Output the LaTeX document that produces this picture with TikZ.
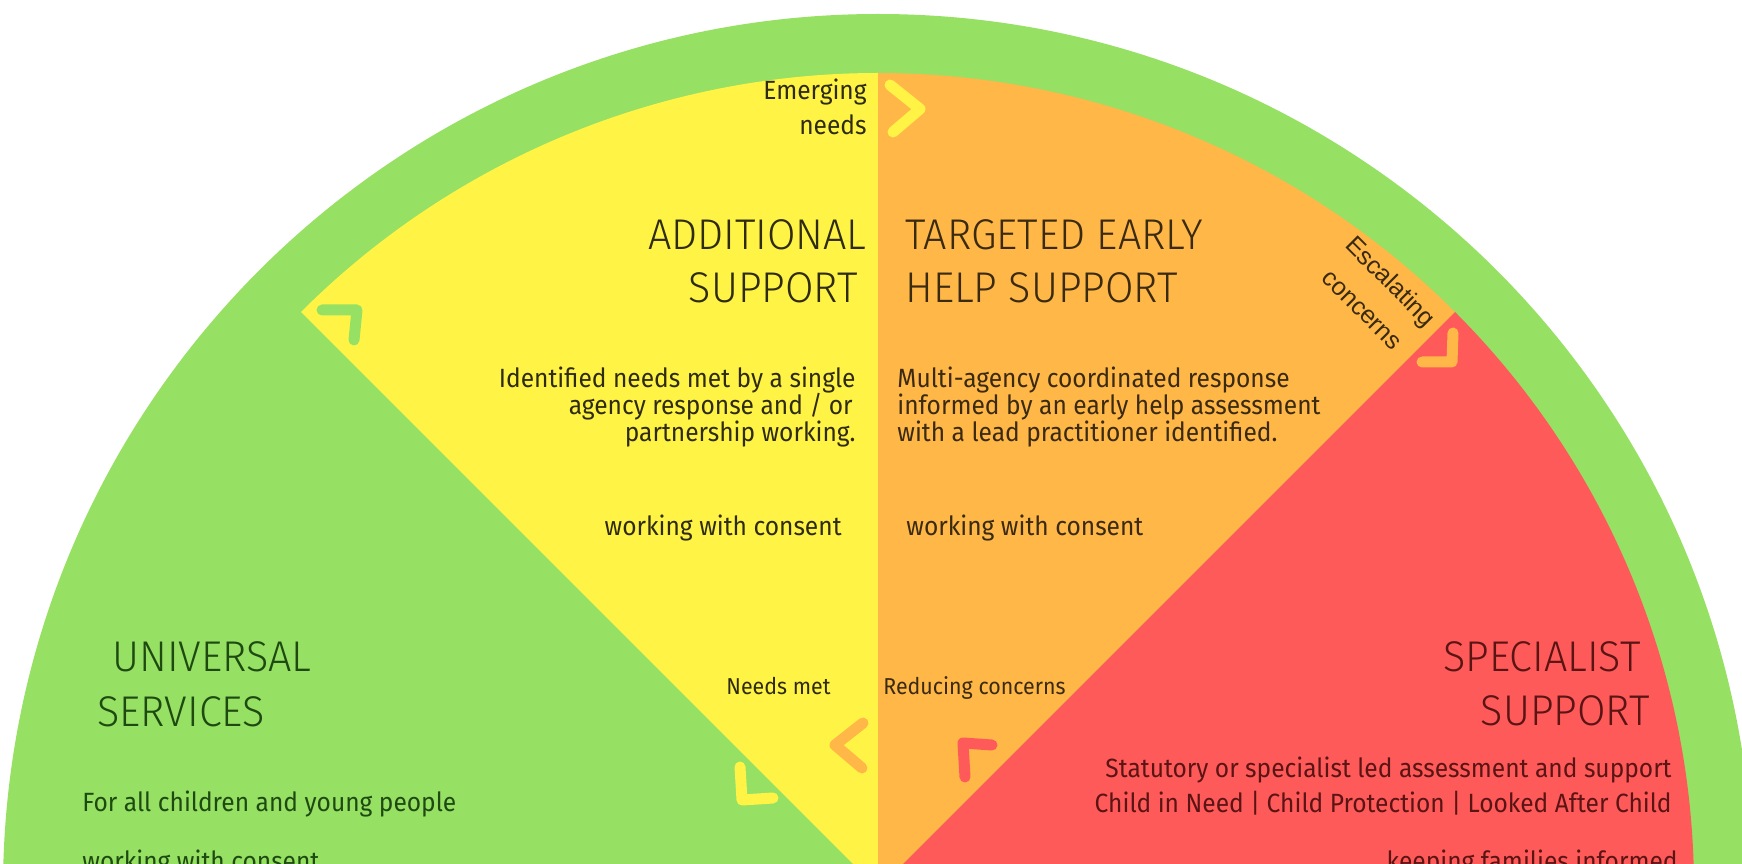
\documentclass[tikz,border=0pt]{standalone}
\usepackage{fontspec}
\setmainfont{Fira Sans}
\newfontfamily\headfont[FakeStretch=0.96]{Fira Sans Light}
\newfontfamily\bodyfont[FakeStretch=0.93]{Fira Sans}
\newfontfamily\tiltfont{Liberation Sans}

\definecolor{ringgreen}{HTML}{96E064}
\definecolor{secyellow}{HTML}{FFF446}
\definecolor{secorange}{HTML}{FFB748}
\definecolor{secred}{HTML}{FF5A5A}
\definecolor{inkY}{HTML}{2E2B10}
\definecolor{inkO}{HTML}{3A2A10}
\definecolor{inkG}{HTML}{1E4A12}
\definecolor{inkR}{HTML}{5A1414}

\tikzset{
  head/.style={font=\headfont\fontsize{21.5}{24}\selectfont, inner sep=0},
  body/.style={font=\bodyfont\fontsize{13.2}{15}\selectfont, inner sep=0},
  note/.style={font=\bodyfont\fontsize{11.5}{13}\selectfont, inner sep=0},
  chevron/.style={line width=5.5pt, line cap=round, line join=round},
}

\begin{document}
\begin{tikzpicture}[x=0.5pt,y=0.5pt]
  \useasboundingbox (0,0) rectangle (1742,863);
  \clip (0,0) rectangle (1742,863);
  \coordinate (C) at (878,-26);
  % ring and sectors
  \fill[ringgreen] (C) circle (875);
  \fill[secyellow] (C) -- ++(90:816) arc (90:135:816) -- cycle;
  \fill[secorange] (C) -- ++(45:816) arc (45:90:816) -- cycle;
  \fill[secred] (C) -- ++(0:816) arc (0:45:816) -- cycle;
  % chevrons
  \draw[chevron,secyellow] (890,778) -- (920,754) -- (893,731);
  \draw[chevron,ringgreen] (322,553) -- (357,553) -- (354,523);
  \draw[chevron,secorange] (863,140) -- (835,118) -- (862,95);
  \draw[chevron,secyellow] (740,96) -- (742,63) -- (773,65);
  \draw[chevron,secred] (965,86) -- (963,120) -- (992,118);
  \draw[chevron,secorange] (1453,530) -- (1452,501) -- (1422,501);
  % additional support
  \node[body,inkY,anchor=base east] (emerg1) at (867,763) {Emerging};
  \node[body,inkY,anchor=base east] (emerg2) at (867,728) {needs};
  \node[head,inkY,anchor=base east] (addT1) at (867,613) {ADDITIONAL};
  \node[head,inkY,anchor=base east] (addT2) at (858,560) {SUPPORT};
  \node[body,inkY,anchor=base east] (addB1) at (856,475) {Identified needs met by a single};
  \node[body,inkY,anchor=base east] (addB2) at (853,448) {agency response and / or};
  \node[body,inkY,anchor=base east] (addB3) at (856,421) {partnership working.};
  \node[body,inkY,anchor=base east] (addC) at (842,327) {working with consent};
  \node[note,inkY,anchor=base west] (needsmet) at (726,168) {Needs met};
  % targeted early help
  \node[head,inkO,anchor=base west] (tarT1) at (905,613) {TARGETED EARLY};
  \node[head,inkO,anchor=base west] (tarT2) at (905,560) {HELP SUPPORT};
  \node[body,inkO,anchor=base west] (tarB1) at (897,475) {Multi-agency coordinated response};
  \node[body,inkO,anchor=base west] (tarB2) at (897,448) {informed by an early help assessment};
  \node[body,inkO,anchor=base west] (tarB3) at (897,421) {with a lead practitioner identified.};
  \node[body,inkO,anchor=base west] (tarC) at (906,327) {working with consent};
  \node[note,inkO,anchor=base west] (reducing) at (883,168) {Reducing concerns};
  \node[inkO,rotate=-45,align=center,inner sep=0,
        font=\tiltfont\fontsize{12.5}{20}\selectfont] (escal) at (1377,568) {Escalating\\concerns};
  % universal services
  \node[head,inkG,anchor=base west] (uniT1) at (112,191) {UNIVERSAL};
  \node[head,inkG,anchor=base west] (uniT2) at (97,136) {SERVICES};
  \node[body,inkG,anchor=base west] (uniB1) at (82,51) {For all children and young people};
  \node[body,inkG,anchor=base west] (uniC) at (82,-7) {working with consent};
  % specialist support
  \node[head,inkR,anchor=base east] (speT1) at (1641,191) {SPECIALIST};
  \node[head,inkR,anchor=base east] (speT2) at (1650,137) {SUPPORT};
  \node[body,inkR,anchor=base east] (speB1) at (1672,85) {Statutory or specialist led assessment and support};
  \node[body,inkR,anchor=base east] (speB2) at (1672,50) {Child in Need | Child Protection | Looked After Child};
  \node[body,inkR,anchor=base east] (speC) at (1678,-7) {keeping families informed};
\end{tikzpicture}
\end{document}
